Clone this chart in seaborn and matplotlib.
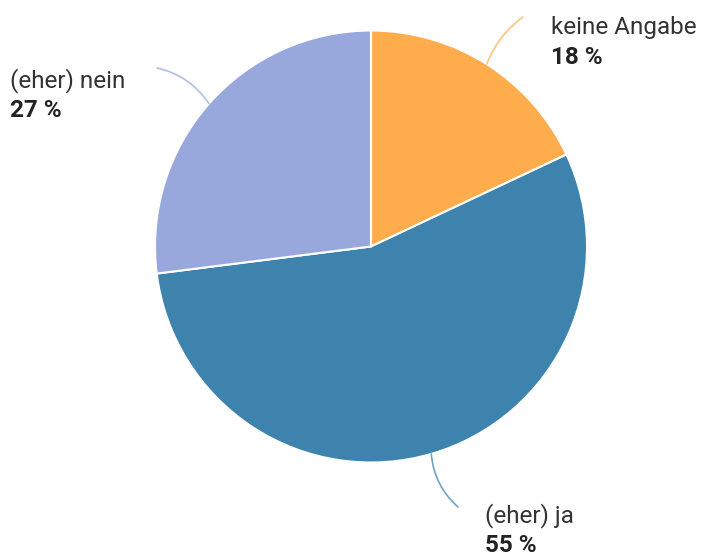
import numpy as np
import matplotlib
matplotlib.use("Agg")
import matplotlib.pyplot as plt
import seaborn as sns

# data
categories = ["keine Angabe", "(eher) ja", "(eher) nein"]
values = [18, 55, 27]
pct_labels = ["18 %", "55 %", "27 %"]
colors = ["#FFAD4C", "#3D83AD", "#98A8DC"]
line_colors = ["#FFC480", "#6FA3C4", "#B3BEE6"]

sns.set_theme(style="white")
plt.rcParams["font.family"] = ["Roboto", "DejaVu Sans"]

W, H = 706, 556
fig = plt.figure(figsize=(W / 100, H / 100), dpi=100)
ax = fig.add_axes([0, 0, 1, 1])

cx, cy, R = 371, H - 246.5, 216
wedges, _ = ax.pie(values, colors=colors, startangle=90, counterclock=False,
                   center=(cx, cy), radius=R, frame=True,
                   wedgeprops=dict(edgecolor="white", linewidth=1.5))
ax.set_xlim(0, W)
ax.set_ylim(0, H)
ax.set_aspect("equal")
ax.axis("off")

# label layout: (line end x, y in px from top), (text x, first baseline y from top), curvature
layout = [
    ((523, 17), (551, 34), 0.15),
    ((458, 507), (485, 522), -0.2),
    ((157, 68), (10, 87), -0.2),
]

for w, cat, pct, lc, (end, txt, rad) in zip(wedges, categories, pct_labels, line_colors, layout):
    ang = np.deg2rad((w.theta1 + w.theta2) / 2)
    edge = (cx + R * np.cos(ang), cy + R * np.sin(ang))
    ax.annotate("", xy=edge, xytext=(end[0], H - end[1]),
                arrowprops=dict(arrowstyle="-", color=lc, lw=1.2,
                                shrinkA=0, shrinkB=0,
                                connectionstyle=f"arc3,rad={rad}"))
    ax.text(txt[0], H - txt[1], cat, fontsize=17.5, color="#333333",
            ha="left", va="baseline")
    ax.text(txt[0], H - txt[1] - 30, pct, fontsize=17.5, color="#222222",
            fontweight="bold", ha="left", va="baseline")

fig.savefig("out.png", dpi=100)
